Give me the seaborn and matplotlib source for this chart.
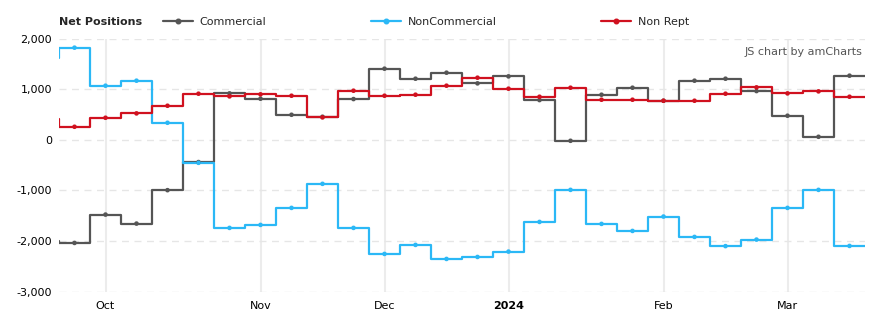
import matplotlib
matplotlib.use("Agg")
import matplotlib.pyplot as plt
from matplotlib.lines import Line2D
from matplotlib.ticker import FuncFormatter
import seaborn as sns
import pandas as pd

# ---- data (weekly reports; first entry lies just left of the visible range) ----
dates = ["2023-09-19", "2023-09-26", "2023-10-03", "2023-10-10", "2023-10-17",
         "2023-10-24", "2023-10-31", "2023-11-07", "2023-11-14", "2023-11-21",
         "2023-11-28", "2023-12-05", "2023-12-12", "2023-12-19", "2023-12-26",
         "2024-01-02", "2024-01-09", "2024-01-16", "2024-01-23", "2024-01-30",
         "2024-02-06", "2024-02-13", "2024-02-20", "2024-02-27", "2024-03-05",
         "2024-03-12", "2024-03-19"]
commercial = [-2000, -2037, -1477, -1655, -995, -440, 916, 811, 494, 455,
              804, 1404, 1206, 1325, 1114, 1252, 784, -20, 890, 1028,
              771, 1167, 1206, 962, 475, 59, 1266]
noncommercial = [1615, 1819, 1068, 1167, 336, -455, -1740, -1681, -1345, -870,
                 -1740, -2254, -2076, -2353, -2314, -2208, -1622, -989, -1661, -1800,
                 -1516, -1918, -2100, -1971, -1345, -989, -2096]
nonrept = [409, 257, 435, 521, 672, 910, 857, 897, 870, 442,
           969, 870, 890, 1068, 1226, 1009, 850, 1028, 791, 791,
           771, 771, 910, 1035, 916, 956, 850]
series_names = ["Commercial", "NonCommercial", "Non Rept"]
tick_labels = ["Oct", "Nov", "Dec", "2024", "Feb", "Mar"]
y_ticks = [-3000, -2000, -1000, 0, 1000, 2000]

colors = {"Commercial": "#555555", "NonCommercial": "#2bb8f6", "Non Rept": "#d0111f"}

# ---- build frames ----
dt = pd.to_datetime(dates)
pos = [i - 1 for i in range(len(dates))]  # equal spacing, index 0 = 2023-09-26
values = {"Commercial": commercial, "NonCommercial": noncommercial, "Non Rept": nonrept}

pts = pd.DataFrame([
    {"x": p, "value": v, "series": s}
    for s in series_names for p, v in zip(pos, values[s])
])
steps = pd.DataFrame([
    {"x": p + off, "value": v, "series": s}
    for s in series_names for p, v in zip(pos, values[s]) for off in (-0.5, 0.5)
])

# ticks at first report of each new month
month_pos = [pos[i] for i in range(1, len(dt)) if dt[i].month != dt[i - 1].month]

# ---- figure ----
sns.set_style("white")
plt.rcParams["font.family"] = ["DejaVu Sans"]

fig = plt.figure(figsize=(8.82, 3.26), dpi=100)
ax = fig.add_axes([59 / 882, 1 - 291.7 / 326, (865 - 59) / 882, (291.7 - 38.5) / 326])

sns.lineplot(data=steps, x="x", y="value", hue="series", hue_order=series_names,
             palette=colors, sort=False, estimator=None, linewidth=1.6,
             legend=False, ax=ax, zorder=2)
sns.scatterplot(data=pts, x="x", y="value", hue="series", hue_order=series_names,
                palette=colors, s=11, linewidth=0, legend=False, ax=ax, zorder=3)

ax.set_xlim(-0.5, 25.5)
ax.set_ylim(-3000, 2000)
ax.set_yticks(y_ticks)
ax.yaxis.set_major_formatter(FuncFormatter(lambda v, _: f"{int(v):,}"))
ax.set_xticks(month_pos)
ax.set_xticklabels(tick_labels)
for t in ax.get_xticklabels():
    if t.get_text() == "2024":
        t.set_fontweight("bold")

ax.set_xlabel("")
ax.set_ylabel("")
for sp in ax.spines.values():
    sp.set_visible(False)
ax.set_axisbelow(True)
ax.yaxis.grid(True, color="#e6e6e6", linewidth=1.0, linestyle=(0, (5, 4)))
ax.xaxis.grid(True, color="#ececec", linewidth=1.5, linestyle="-")
ax.tick_params(axis="both", length=0, labelsize=8, colors="#000000")
ax.tick_params(axis="y", pad=5)
ax.tick_params(axis="x", pad=7)

# ---- header / legend ----
fig.text(59 / 882, 1 - 22 / 326, "Net Positions", fontweight="bold", fontsize=8,
         va="center", ha="left")
handles = [Line2D([], [], color=colors[s], lw=1.6, marker="o", markersize=3.3)
           for s in series_names]
fig.legend(handles, series_names, loc="center left",
           bbox_to_anchor=(163 / 882, 1 - 22 / 326), ncol=3, frameon=False,
           fontsize=8, handlelength=2.7, handletextpad=0.6, columnspacing=9.4,
           borderpad=0, borderaxespad=0)
fig.text(862 / 882, 1 - 52 / 326, "JS chart by amCharts", fontsize=8,
         color="#555555", ha="right", va="center")

fig.savefig("out.png", dpi=100)
